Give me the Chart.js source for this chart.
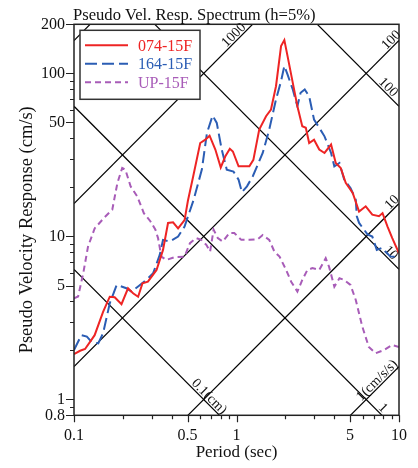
<!DOCTYPE html>
<html><head><meta charset="utf-8">
<script src="https://cdn.jsdelivr.net/npm/chart.js@4/dist/chart.umd.min.js"></script>
<style>html,body{margin:0;padding:0;background:#fff;overflow:hidden}</style>
</head><body>
<canvas id="c" width="418" height="468" style="display:block;width:418px;height:468px"></canvas>
<script>
// ---- data (period in sec, pseudo velocity in cm/s) ----
const periods074 = [0.100,0.109,0.117,0.134,0.151,0.166,0.178,0.196,0.215,0.231,0.248,0.264,0.285,0.322,0.353,0.379,0.407,0.437,0.479,0.502,0.542,0.598,0.643,0.683,0.741,0.800,0.854,0.910,0.950,1.03,1.20,1.27,1.38,1.52,1.63,1.75,1.88,1.97,2.06,2.22,2.37,2.54,2.67,2.80,3.00,3.23,3.48,3.82,4.08,4.38,4.70,5.19,5.68,6.24,6.85,7.53,7.92,8.50,9.09,10.0];
const vel074     = [1.90,1.99,2.04,2.48,3.45,4.27,4.24,3.84,4.81,4.48,4.27,5.16,5.28,6.23,8.27,12.1,12.2,11.2,12.6,16.5,23.5,37.4,39.2,41.5,34.1,26.5,31.0,34.5,33.2,26.9,26.9,29.5,45.2,54.6,60.0,83.4,147,160,128,87.5,62.9,47.4,46.4,37.4,39.2,34.1,32.5,36.6,28.2,26.3,21.3,18.5,14.2,15.3,13.6,13.3,13.9,11.5,9.77,7.89];

const periods164 = [0.100,0.111,0.120,0.128,0.141,0.151,0.166,0.183,0.196,0.210,0.226,0.248,0.279,0.307,0.337,0.353,0.388,0.437,0.479,0.545,0.612,0.658,0.713,0.756,0.811,0.871,0.958,1.03,1.08,1.16,1.26,1.45,1.59,1.75,1.88,1.97,2.06,2.22,2.37,2.48,2.63,2.80,3.00,3.23,3.48,3.82,4.00,4.30,4.60,5.03,5.42,5.50,5.68,6.40,6.85,7.30,7.86,8.85,10.0];
const vel164     = [2.01,2.48,2.43,2.26,2.21,2.55,3.89,5.04,4.93,4.81,4.59,4.93,5.41,5.95,7.71,9.53,9.31,9.98,11.5,16.8,25.7,43.1,55.1,49.7,34.1,25.7,25.0,22.3,18.7,20.3,23.4,32.5,45.2,69.2,89.6,111,98.5,79.6,62.9,76.0,79.6,72.4,52.1,46.4,41.1,32.5,26.9,28.2,22.3,19.8,16.8,13.3,12.1,10.3,9.98,8.27,8.50,7.52,7.50];

const periodsUP  = [0.100,0.106,0.114,0.122,0.134,0.153,0.172,0.185,0.198,0.207,0.223,0.245,0.269,0.295,0.317,0.329,0.345,0.371,0.416,0.479,0.517,0.565,0.607,0.652,0.688,0.723,0.767,0.823,0.904,0.969,1.07,1.20,1.35,1.45,1.59,1.71,1.84,2.02,2.17,2.37,2.54,2.73,2.93,3.23,3.54,3.71,4.00,4.30,4.60,5.03,5.42,5.95,6.52,7.17,8.07,9.09,10.0];
const velUP      = [4.18,4.28,5.95,8.67,11.2,13.0,14.6,21.3,26.3,25.7,20.3,17.6,13.9,12.4,11.0,9.77,7.52,7.18,7.46,7.52,9.10,9.77,9.53,8.88,8.08,11.0,9.77,9.31,10.5,10.5,9.53,9.53,9.61,10.2,9.53,8.08,7.52,6.23,5.28,4.59,5.41,6.23,6.39,6.23,7.36,6.53,4.92,5.54,5.41,5.04,4.08,2.79,2.10,1.92,2.01,2.16,2.10];

const seriesNames  = ['074-15F','164-15F','UP-15F'];
const seriesColors = ['#ee2424','#2b5db4','#a85cb8'];

const xTickValues = [0.1,0.2,0.3,0.4,0.5,0.6,0.7,0.8,0.9,1,2,3,4,5,6,7,8,9,10];
const xTickLabels = [0.1,0.5,1,5,10];
const yTickValues = [0.8,0.9,1,2,3,4,5,6,7,8,9,10,20,30,40,50,60,70,80,90,100,200];
const yTickLabels = [0.8,1,5,10,50,100,200];

const dispLines = [0.1,1,10,100];          // displacement (cm)
const accLines  = [1,10,100,1000,10000];   // acceleration (cm/s/s)
const diagLabelTypes  = ['A','A','A','A','D','D','D','D'];
const diagLabelValues = [1000,100,10,1,100,10,1,0.1];
const diagLabelTexts  = ['1000','100','10','1(cm/s/s)','100','10','1','0.1(cm)'];
const diagLabelPeriods= [1.02,9.5,9.6,7.77,8.1,8.4,7.5,0.64];

const chartTitle = 'Pseudo Vel. Resp. Spectrum (h=5%)';
const xTitle = 'Period (sec)';
const yTitle = 'Pseudo Velocity Response (cm/s)';

// ---- build ----
const SERIF = "'Liberation Serif','Times New Roman',serif";
const TWO_PI = 2*Math.PI;
const T0 = xTickValues[0], T1 = xTickValues[xTickValues.length-1];
const vDisp = (D,T) => TWO_PI*D/T;
const vAcc  = (A,T) => A*T/TWO_PI;

const toPts = (ts, vs) => ts.map((t,i)=>({x:t,y:vs[i]}));
const datasets = [
  {label:seriesNames[0], data:toPts(periods074,vel074), borderColor:seriesColors[0], borderWidth:2, inLegend:true},
  {label:seriesNames[1], data:toPts(periods164,vel164), borderColor:seriesColors[1], borderWidth:2, borderDash:[12,5], inLegend:true},
  {label:seriesNames[2], data:toPts(periodsUP,velUP),   borderColor:seriesColors[2], borderWidth:2, borderDash:[6,4], inLegend:true},
];
dispLines.forEach(D => datasets.push({label:'D'+D, data:[{x:T0,y:vDisp(D,T0)},{x:T1,y:vDisp(D,T1)}], borderColor:'#000', borderWidth:1.2}));
accLines.forEach(A => datasets.push({label:'A'+A, data:[{x:T0,y:vAcc(A,T0)},{x:T1,y:vAcc(A,T1)}], borderColor:'#000', borderWidth:1.2}));
datasets.forEach(d => { d.pointRadius = 0; d.tension = 0; d.fill = false; });

const near = (list, v) => list.some(l => Math.abs(l - v) < 1e-9*Math.max(1,Math.abs(v)));

const diagLabelPlugin = {
  id:'diagLabels',
  beforeDatasetsDraw(chart){
    const {ctx, scales:{x,y}} = chart;
    ctx.save();
    ctx.fillStyle = '#111';
    ctx.font = '14px ' + SERIF;
    ctx.textAlign = 'center';
    ctx.textBaseline = 'alphabetic';
    diagLabelTexts.forEach((txt,i) => {
      const T = diagLabelPeriods[i];
      const V = diagLabelTypes[i]==='A' ? vAcc(diagLabelValues[i],T) : vDisp(diagLabelValues[i],T);
      const px = x.getPixelForValue(T), py = y.getPixelForValue(V);
      ctx.save();
      ctx.translate(px,py);
      ctx.rotate(diagLabelTypes[i]==='A' ? -Math.PI/4 : Math.PI/4);
      ctx.fillText(txt, 0, -2);
      ctx.restore();
    });
    ctx.restore();
  }
};

const framePlugin = {
  id:'frame',
  afterDatasetsDraw(chart){
    const {ctx, chartArea:a, scales:{x,y}} = chart;
    ctx.save();
    ctx.strokeStyle = '#222';
    ctx.lineWidth = 1.5;
    ctx.strokeRect(a.left, a.top, a.right-a.left, a.bottom-a.top);
    ctx.lineWidth = 1.2;
    ctx.beginPath();
    xTickValues.forEach(v => {
      const px = Math.round(x.getPixelForValue(v)) + 0.5;
      const len = near(xTickLabels,v) ? 7 : 4;
      ctx.moveTo(px, a.bottom); ctx.lineTo(px, a.bottom+len);
    });
    yTickValues.forEach(v => {
      const py = Math.round(y.getPixelForValue(v)) + 0.5;
      const len = near(yTickLabels,v) ? 8 : 4;
      ctx.moveTo(a.left, py); ctx.lineTo(a.left-len, py);
    });
    ctx.stroke();

    // legend
    const bx = a.left+6, by = a.top+6, bw = 120, bh = 69;
    ctx.fillStyle = '#fff';
    ctx.fillRect(bx,by,bw,bh);
    ctx.strokeStyle = '#333';
    ctx.lineWidth = 1.5;
    ctx.strokeRect(bx,by,bw,bh);
    ctx.font = '16px ' + SERIF;
    ctx.textBaseline = 'middle';
    ctx.textAlign = 'left';
    chart.data.datasets.filter(d=>d.inLegend).forEach((d,i) => {
      const yy = by + 15 + i*18.5;
      ctx.strokeStyle = d.borderColor;
      ctx.lineWidth = 2;
      ctx.setLineDash(d.borderDash || []);
      ctx.beginPath(); ctx.moveTo(bx+5,yy); ctx.lineTo(bx+48,yy); ctx.stroke();
      ctx.setLineDash([]);
      ctx.fillStyle = d.borderColor;
      ctx.fillText(d.label, bx+58, yy+1);
    });

    // chart title
    ctx.fillStyle = '#111';
    ctx.font = '16.6px ' + SERIF;
    ctx.textBaseline = 'alphabetic';
    ctx.fillText(chartTitle, a.left-1, 20);

    // y axis title
    ctx.save();
    ctx.translate(27, (a.top + a.bottom)/2 + 10);
    ctx.rotate(-Math.PI/2);
    ctx.font = '18.5px ' + SERIF;
    ctx.textAlign = 'center';
    ctx.textBaseline = 'middle';
    ctx.fillText(yTitle, 0, 0);
    ctx.restore();
    ctx.restore();
  }
};

new Chart(document.getElementById('c'), {
  type:'line',
  data:{datasets},
  options:{
    responsive:false,
    animation:false,
    events:[],
    devicePixelRatio:1,
    layout:{padding:{top:24.3, right:18, left:0, bottom:0}},
    plugins:{legend:{display:false}, tooltip:{enabled:false}, title:{display:false}},
    scales:{
      x:{
        type:'logarithmic', min:0.1, max:10,
        grid:{display:false, drawTicks:false}, border:{display:false},
        afterBuildTicks: s => { s.ticks = xTickValues.map(v=>({value:v})); },
        afterFit: s => { s.height = 52.7; },
        ticks:{autoSkip:false, maxRotation:0, padding:11, color:'#111', font:{family:SERIF, size:16},
          callback: v => near(xTickLabels,v) ? String(v) : ''},
        title:{display:true, text:xTitle, color:'#111', font:{family:SERIF, size:17}, padding:{top:0, bottom:5}}
      },
      y:{
        type:'logarithmic', min:0.8, max:200,
        grid:{display:false, drawTicks:false}, border:{display:false},
        afterBuildTicks: s => { s.ticks = yTickValues.map(v=>({value:v})); },
        afterFit: s => { s.width = 74; },
        ticks:{autoSkip:false, padding:9, color:'#111', font:{family:SERIF, size:16},
          callback: v => near(yTickLabels,v) ? String(v) : ''},
        title:{display:false}
      }
    }
  },
  plugins:[diagLabelPlugin, framePlugin]
});
</script>
</body></html>
